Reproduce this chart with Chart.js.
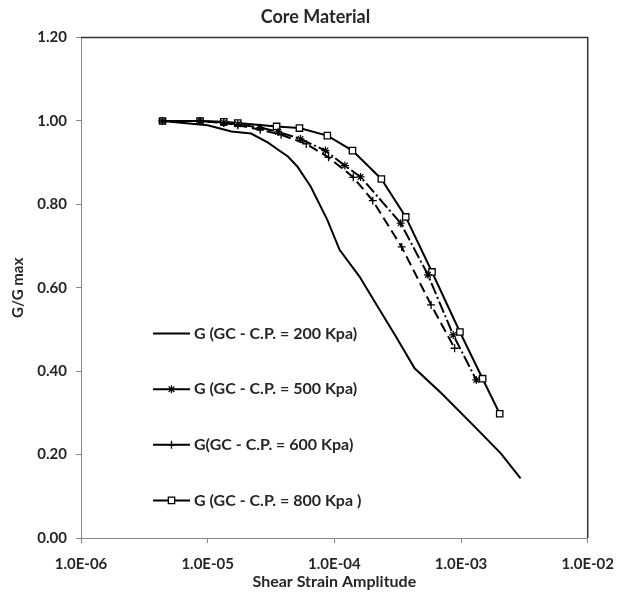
<!DOCTYPE html>
<html>
<head>
<meta charset="utf-8">
<script src="https://cdn.jsdelivr.net/npm/chart.js@4.4.1/dist/chart.umd.min.js"></script>
<style>
  html, body { margin: 0; padding: 0; background: #fff; }
  #wrap { width: 626px; height: 592px; }
</style>
</head>
<body>
<div id="wrap"><canvas id="coreChart" width="626" height="592"></canvas></div>
<script>
const strain200 = [4.4e-6, 1.0e-5, 1.54e-5, 2.2e-5, 3.0e-5, 3.6e-5, 4.3e-5, 5.1e-5, 6.5e-5, 8.8e-5, 1.1e-4, 1.58e-4, 2.1e-4, 3.06e-4, 4.3e-4, 7.0e-4, 1.28e-3, 2.06e-3, 2.95e-3];
const g200      = [1.00, 0.99, 0.975, 0.97, 0.948, 0.931, 0.915, 0.891, 0.843, 0.763, 0.691, 0.627, 0.565, 0.483, 0.407, 0.347, 0.267, 0.203, 0.143];

const strain500 = [4.4e-6, 8.7e-6, 1.34e-5, 1.73e-5, 2.6e-5, 3.6e-5, 5.4e-5, 8.5e-5, 1.21e-4, 1.61e-4, 3.34e-4, 5.48e-4, 8.67e-4, 1.32e-3];
const g500      = [1.00, 1.00, 0.996, 0.992, 0.984, 0.974, 0.957, 0.929, 0.893, 0.866, 0.755, 0.631, 0.487, 0.379];

const strain600 = [4.4e-6, 8.7e-6, 1.34e-5, 1.73e-5, 2.6e-5, 3.8e-5, 6.0e-5, 9.0e-5, 1.41e-4, 2.01e-4, 3.4e-4, 5.8e-4, 8.9e-4];
const g600      = [1.00, 1.00, 0.995, 0.99, 0.979, 0.967, 0.945, 0.913, 0.865, 0.809, 0.698, 0.559, 0.455];

const strain800 = [4.4e-6, 8.7e-6, 1.34e-5, 1.73e-5, 3.5e-5, 5.3e-5, 8.8e-5, 1.39e-4, 2.35e-4, 3.66e-4, 5.9e-4, 9.8e-4, 1.48e-3, 2.02e-3];
const g800      = [1.00, 1.00, 0.998, 0.995, 0.987, 0.983, 0.965, 0.929, 0.861, 0.770, 0.638, 0.494, 0.382, 0.298];

const seriesLabels = ['G (GC - C.P. = 200 Kpa)', 'G (GC - C.P. = 500 Kpa)', 'G(GC - C.P. = 600 Kpa)', 'G (GC - C.P. = 800 Kpa )'];
const xTicks = [1e-6, 1e-5, 1e-4, 1e-3, 1e-2];
const yTicks = [0, 0.2, 0.4, 0.6, 0.8, 1.0, 1.2];

const pts = (xs, ys) => xs.map((x, i) => ({ x, y: ys[i] }));
const TXT = '#262626';
Chart.defaults.font.family = 'Lato, "Open Sans", sans-serif';

// 1.0E-06 style
function sci(v) {
  const e = Math.round(Math.log10(v));
  const m = v / Math.pow(10, e);
  return m.toFixed(1) + 'E' + (e < 0 ? '-' : '+') + String(Math.abs(e)).padStart(2, '0');
}

// leyenda dentro del área del gráfico
const insideLegend = {
  id: 'insideLegend',
  afterDatasetsDraw(chart) {
    const { ctx, chartArea } = chart;
    ctx.save();
    chart.data.datasets.forEach((ds, i) => {
      const y = chartArea.top + 296 + i * 55.6;
      const x0 = chartArea.left + 72, x1 = x0 + 37;
      ctx.setLineDash([]);
      ctx.strokeStyle = '#000';
      ctx.lineWidth = 2;
      ctx.beginPath(); ctx.moveTo(x0, y); ctx.lineTo(x1, y); ctx.stroke();
      if (ds.pointRadius > 0) {
        ctx.fillStyle = ds.pointBackgroundColor;
        ctx.strokeStyle = '#000';
        ctx.lineWidth = ds.pointBorderWidth;
        Chart.helpers.drawPoint(ctx, { pointStyle: ds.pointStyle, radius: ds.pointRadius, borderWidth: ds.pointBorderWidth, rotation: 0 }, (x0 + x1) / 2, y);
      }
      ctx.fillStyle = TXT;
      ctx.font = 'bold 16px Lato, "Open Sans", sans-serif';
      ctx.textAlign = 'left';
      ctx.textBaseline = 'middle';
      ctx.fillText(ds.label, x1 + 4, y);
    });
    ctx.restore();
  }
};

// marco superior y derecho
const frame = {
  id: 'frame',
  beforeDatasetsDraw(chart) {
    const { ctx, chartArea: a } = chart;
    ctx.save();
    ctx.strokeStyle = '#333';
    ctx.lineWidth = 1.5;
    ctx.beginPath();
    ctx.moveTo(a.left, a.top); ctx.lineTo(a.right, a.top); ctx.lineTo(a.right, a.bottom);
    ctx.stroke();
    ctx.restore();
  }
};

const lineBase = { borderColor: '#000', backgroundColor: '#000', fill: false, tension: 0, showLine: true };

new Chart(document.getElementById('coreChart'), {
  type: 'scatter',
  data: {
    datasets: [
      { ...lineBase, label: seriesLabels[0], data: pts(strain200, g200), borderWidth: 2, pointRadius: 0 },
      { ...lineBase, label: seriesLabels[1], data: pts(strain500, g500), borderWidth: 2, borderDash: [12, 3, 2, 3],
        pointStyle: 'star', pointRadius: 4, pointBorderWidth: 1.2, pointBorderColor: '#000', pointBackgroundColor: '#000' },
      { ...lineBase, label: seriesLabels[2], data: pts(strain600, g600), borderWidth: 2, borderDash: [10, 5],
        pointStyle: 'cross', pointRadius: 4, pointBorderWidth: 1.3, pointBorderColor: '#000', pointBackgroundColor: '#000' },
      { ...lineBase, label: seriesLabels[3], data: pts(strain800, g800), borderWidth: 2,
        pointStyle: 'rect', pointRadius: 4.5, pointBorderWidth: 1.3, pointBorderColor: '#000', pointBackgroundColor: '#fff' }
    ]
  },
  options: {
    responsive: false,
    animation: false,
    layout: { padding: { left: 37, right: 32, top: 0, bottom: 0 } },
    plugins: {
      legend: { display: false },
      tooltip: { enabled: false },
      title: {
        display: true, text: 'Core Material', color: TXT,
        font: { size: 18, weight: 'bold' }, padding: { top: 6, bottom: 10 }
      }
    },
    scales: {
      x: {
        type: 'logarithmic', min: 1e-6, max: 1e-2,
        afterBuildTicks: s => { s.ticks = xTicks.map(v => ({ value: v })); },
        afterFit: s => { s.height = 54; },
        grid: { display: true, drawOnChartArea: false, drawTicks: true, tickLength: 5, color: '#888' },
        border: { display: true, color: '#888', width: 1 },
        ticks: { color: TXT, font: { size: 15, weight: 'bold' }, padding: 12, maxRotation: 0, autoSkip: false, callback: v => sci(v) },
        title: { display: true, text: 'Shear Strain Amplitude', color: TXT, font: { size: 16, weight: 'bold' }, padding: { top: 0, bottom: 1 } }
      },
      y: {
        min: 0, max: 1.2,
        afterBuildTicks: s => { s.ticks = yTicks.map(v => ({ value: v })); },
        afterFit: s => { s.width = 44; },
        grid: { display: true, drawOnChartArea: false, drawTicks: true, tickLength: 5, color: '#888' },
        border: { display: true, color: '#888', width: 1 },
        ticks: { color: TXT, font: { size: 15, weight: 'bold' }, padding: 9, callback: v => v.toFixed(2) },
        title: { display: true, text: 'G/G max', color: TXT, font: { size: 15, weight: 'bold' }, padding: { top: -28, bottom: 0 } }
      }
    }
  },
  plugins: [frame, insideLegend]
});
</script>
</body>
</html>
